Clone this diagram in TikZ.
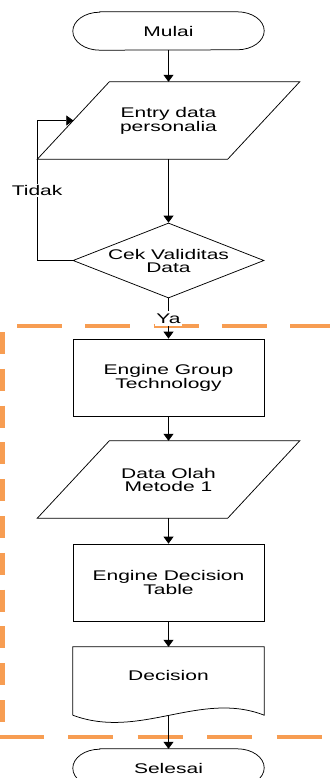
\documentclass[tikz,border=0pt]{standalone}
\usepackage{fontspec}
\setmainfont[FakeStretch=1.5]{Liberation Sans}
\usepackage{xcolor}
\usetikzlibrary{arrows, arrows.meta}
\usetikzlibrary{shapes.geometric}
\definecolor{zoneorange}{RGB}{247,157,82}

\begin{document}
\begin{tikzpicture}[x=1pt, y=-1pt,
    every node/.style={font=\fontsize{14}{13}\selectfont, align=center},
    thinline/.style={line width=0.75pt},
    termslot/.style={rectangle, minimum width=191pt, minimum height=38pt},
    process/.style={rectangle, draw, thinline, minimum width=191pt, minimum height=77pt},
    ioslot/.style={rectangle, minimum width=190pt, minimum height=77pt},
    decide/.style={diamond, draw, thinline, aspect=2.55, inner sep=0pt, minimum width=191pt, minimum height=75pt},
    flow/.style={thinline, -{Triangle[length=7pt, width=10pt]}},
    zone/.style={draw=zoneorange, line width=3.5pt}]
      \useasboundingbox (0,0) rectangle (329,778);

      % dashed frame
      \draw[zone, dash pattern=on 45pt off 23.25pt] (17,326) -- (345,326);
      \draw[zone, dash pattern=on 45pt off 24.5pt, dash phase=1.5pt] (0,737) -- (345,737);
      \draw[zone, line width=4.5pt, dash pattern=on 22pt off 14.8pt] (2.5,332) -- (2.5,723);

      \node[termslot] (mulai) at (168.5,31) {Mulai};
      \draw[thinline] ([xshift=27pt]mulai.north west) -- ([xshift=-27pt]mulai.north east) arc[start angle=90, end angle=-90, x radius=27pt, y radius=19pt] -- ([xshift=27pt]mulai.south west) arc[start angle=270, end angle=90, x radius=27pt, y radius=19pt] -- cycle;
      \node[ioslot] (entry) at (168.5,120.5) {Entry data\\personalia};
      \draw[thinline] ([xshift=36pt]entry.north west) -- ([xshift=36pt]entry.north east) -- ([xshift=-36pt]entry.south east) -- ([xshift=-36pt]entry.south west) -- cycle;
      \node[decide] (cek) at (168.5,260.5) {Cek Validitas\\Data};
      \node[process] (group) at (168.5,377.5) {Engine Group\\Technology};
      \node[ioslot] (olah) at (168.5,479.5) {Data Olah\\Metode 1};
      \draw[thinline] ([xshift=36pt]olah.north west) -- ([xshift=36pt]olah.north east) -- ([xshift=-36pt]olah.south east) -- ([xshift=-36pt]olah.south west) -- cycle;
      \node[process] (table) at (168.5,582.5) {Engine Decision\\Table};
      \node[rectangle, minimum width=191pt, minimum height=56pt] (decision) at (168.5,675) {Decision};
      \draw[thinline] ([yshift=-12pt]decision.south west) -- (decision.north west) -- (decision.north east) -- ([yshift=-12pt]decision.south east)
        .. controls ([xshift=-64pt, yshift=13pt]decision.south east) and ([xshift=67pt, yshift=-37pt]decision.south west) .. ([yshift=-12pt]decision.south west);
      \node[termslot] (selesai) at (168.5,768) {Selesai};
      \draw[thinline] ([xshift=27pt]selesai.north west) -- ([xshift=-27pt]selesai.north east) arc[start angle=90, end angle=-90, x radius=27pt, y radius=19pt] -- ([xshift=27pt]selesai.south west) arc[start angle=270, end angle=90, x radius=27pt, y radius=19pt] -- cycle;

      \draw[flow] (mulai) -- (entry);
      \draw[flow] (entry) -- (cek);
      \draw[flow] (cek.west) -- ++(-35.5,0) |- (entry.west) node[pos=0.25, fill=white, inner sep=1pt] {Tidak};
      \draw[flow] (cek) -- (group) node[pos=0.5, fill=white, inner xsep=1pt, inner ysep=3pt] {Ya};
      \draw[flow] (group) -- (olah);
      \draw[flow] (olah) -- (table);
      \draw[flow] (table) -- (decision);
      \draw[flow] ([yshift=-12pt]decision.south) -- (selesai);
    \end{tikzpicture}
\end{document}
